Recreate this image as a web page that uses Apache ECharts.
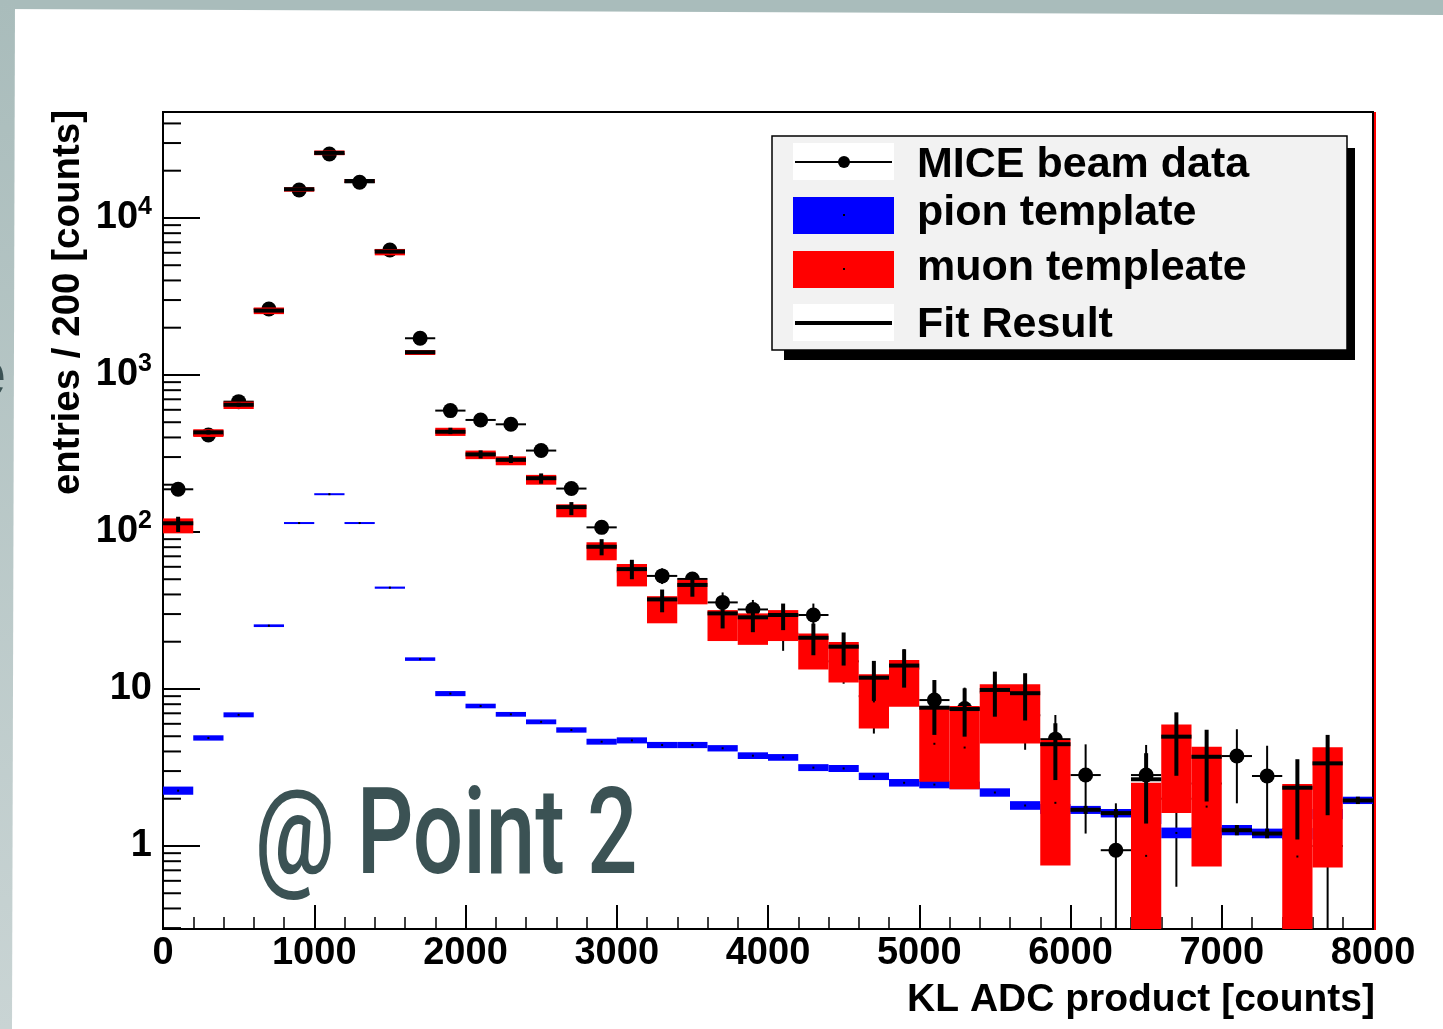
<!DOCTYPE html>
<html>
<head>
<meta charset="utf-8">
<script src="https://cdn.jsdelivr.net/npm/echarts@6/dist/echarts.min.js"></script>
<style>
html,body{margin:0;padding:0;width:1443px;height:1029px;overflow:hidden;background:#fff;}
#chart{width:1443px;height:1029px;}
</style>
</head>
<body>
<div id="chart"></div>
<script>
// ---- data ----
const binCenters = [100,300,500,700,900,1100,1300,1500,1700,1900,2100,2300,2500,2700,2900,3100,3300,3500,3700,3900,4100,4300,4500,4700,4900,5100,5300,5500,5700,5900,6100,6300,6500,6700,6900,7100,7300,7500,7700,7900];
const binWidth = 200;

// MICE beam data (points with error bars)
const dataVal = [187,415,676,2632,15080,25570,16870,6254,1713,593,517,485,330,189,107,56,52.5,50.2,35.6,32.1,22.5,29.6,15,9,13.5,8.5,7.5,9.5,6.8,4.79,2.83,0.94,2.83,2,2.5,3.74,2.79,null,1,null];
const dataLo  = [173,395,650,2581,14957,25410,16740,6175,1672,569,494,463,312,175,97,48,46.6,43.5,30,26.5,17.5,24.2,10.8,5.2,9.8,5.6,4.8,6.4,4.1,2.6,1.2,0,1.39,0.55,1,1.87,1.14,null,0,null];
const dataHi  = [201,435,702,2683,15203,25730,17000,6333,1754,617,540,507,348,203,117,64,58.7,55.3,41.2,36.9,27.7,35,19,12.5,17.9,11.4,10.2,12.6,9.4,6.83,4.44,1.87,4.4,4,4,5.54,4.35,null,2.3,null];

// pion template band
const pionLo = [2.12,4.69,6.6,24.8,113,172.5,113,43.5,15.1,9.0,7.53,6.66,5.96,5.27,4.42,4.5,4.2,4.2,4.0,3.58,3.49,3.0,2.96,2.63,2.39,2.33,2.30,2.06,1.70,1.6,1.60,1.52,1.38,1.12,1.12,1.17,1.12,1.1,1.48,1.85];
const pionHi = [2.39,5.07,7.1,25.8,115,175.5,115,44.9,15.9,9.7,8.06,7.14,6.4,5.7,4.82,4.92,4.6,4.6,4.39,3.95,3.85,3.32,3.28,2.93,2.67,2.60,2.57,2.33,1.93,1.85,1.80,1.72,1.62,1.31,1.32,1.36,1.29,1.3,1.72,2.06];

// muon template band
const muonLo = [98,403,607,2440,14700,25100,16700,5780,1340,409,291,266,200,124,66,45,26.2,34.6,20.2,19.1,20.2,13.3,11,5.6,7.7,2.57,2.3,4.5,4.5,0.75,null,null,0,1.62,0.74,null,null,0,0.73,null];
const muonHi = [122,451,676,2690,15700,26900,17700,6330,1440,461,330,303,231,150,86,62.5,39,49.5,31.8,30.3,31.8,22.6,19.9,12.4,15.3,7.8,7.8,10.7,10.7,4.73,null,null,2.53,5.95,4.29,null,null,2.48,4.25,null];

// fit result (line + error)
const fitVal = [113.6,431,646,2570,15240,25960,17200,6105,1396,435,312,288,220,144,80.5,58,37.2,46,30.3,28.6,29.6,21.2,18.6,11.8,14.1,7.6,7.45,9.86,9.4,4.45,1.70,1.62,2.66,4.97,3.7,1.26,1.20,2.35,3.36,1.95];
const fitLo  = [100,418,628,2520,15000,25650,16950,6000,1370,420,294,275,203,128,71,50,30.8,38.7,24.3,23,23.7,16.4,14.1,8.4,10.2,5.1,4.97,6.66,6.3,2.63,1.6,1.52,1.39,2.8,1.92,1.17,1.12,1.10,1.57,1.85];
const fitHi  = [125,445,665,2620,15480,26270,17450,6210,1420,461,331,309,236,155,90,66.5,43,55.3,36,35,35,26.1,22.9,15.1,17.9,11.4,10.1,12.9,12.6,6.05,1.8,1.72,3.9,7.1,5.5,1.36,1.29,3.57,5.1,2.06];

// axes
const xTickValues = [0,1000,2000,3000,4000,5000,6000,7000,8000];
const yMin = 0.296, yMax = 47300;
const minorDecades = [-1,0,1,2,3,4];
const minorMultipliers = [2,3,4,5,6,7,8,9];

// ---- build ----
const FONT = "'Liberation Sans', Arial, Helvetica, sans-serif";
const clampY = v => Math.min(Math.max(v, yMin), yMax);

function rows(a, b, c) {
  const out = [];
  binCenters.forEach((x, i) => {
    if (a[i] === null || a[i] === undefined) return;
    out.push([x, a[i], b ? b[i] : null, c ? c[i] : null]);
  });
  return out;
}
function bandRows(lo, hi) {
  const out = [];
  binCenters.forEach((x, i) => {
    if (lo[i] === null || hi[i] === null) return;
    out.push([x, Math.max(clampY(Math.sqrt(Math.max(lo[i], yMin) * hi[i])), yMin), lo[i], hi[i]]);
  });
  return out;
}

const minorVals = [];
minorDecades.forEach(d => minorMultipliers.forEach(m => {
  const v = m * Math.pow(10, d);
  if (v > yMin && v < yMax) minorVals.push([0, v]);
}));

function bandRender(color) {
  return function (params, api) {
    const c = api.value(0), lo = clampY(api.value(2)), hi = clampY(api.value(3));
    const p0 = api.coord([c - binWidth / 2, hi]);
    const p1 = api.coord([c + binWidth / 2, lo]);
    let h = p1[1] - p0[1];
    let y = p0[1];
    if (h < 2) { y = (p0[1] + p1[1]) / 2 - 1; h = 2; }
    const cy = y + h / 2;
    const cx = (p0[0] + p1[0]) / 2;
    return {
      type: 'group',
      children: [
        { type: 'rect', shape: { x: p0[0], y: y, width: p1[0] - p0[0], height: h }, style: { fill: color } },
        { type: 'rect', shape: { x: cx - 1, y: cy - 1, width: 2, height: 2 }, style: { fill: '#000' } }
      ]
    };
  };
}

function dataRender(params, api) {
  const c = api.value(0), v = api.value(1), lo = api.value(2), hi = api.value(3);
  const pl = api.coord([c - binWidth / 2, v]);
  const pr = api.coord([c + binWidth / 2, v]);
  const pc = api.coord([c, v]);
  const ch = [
    { type: 'line', shape: { x1: pl[0], y1: pl[1], x2: pr[0], y2: pr[1] }, style: { stroke: '#000', lineWidth: 2 } }
  ];
  if (lo !== null && hi !== null && !isNaN(lo) && !isNaN(hi)) {
    const pt = api.coord([c, clampY(hi)]);
    const pb = api.coord([c, clampY(lo)]);
    ch.push({ type: 'line', shape: { x1: pt[0], y1: pt[1], x2: pb[0], y2: pb[1] }, style: { stroke: '#000', lineWidth: 2 } });
  }
  ch.push({ type: 'circle', shape: { cx: pc[0], cy: pc[1], r: 7.5 }, style: { fill: '#000' } });
  return { type: 'group', children: ch };
}

function fitRender(params, api) {
  const c = api.value(0), v = api.value(1), lo = api.value(2), hi = api.value(3);
  const pl = api.coord([c - binWidth / 2, v]);
  const pr = api.coord([c + binWidth / 2, v]);
  const pt = api.coord([c, clampY(hi)]);
  const pb = api.coord([c, clampY(lo)]);
  return {
    type: 'group',
    children: [
      { type: 'line', shape: { x1: pl[0], y1: pl[1], x2: pr[0], y2: pr[1] }, style: { stroke: '#000', lineWidth: 4 } },
      { type: 'line', shape: { x1: pt[0], y1: pt[1], x2: pb[0], y2: pb[1] }, style: { stroke: '#000', lineWidth: 4 } }
    ]
  };
}

function minorRender(params, api) {
  const p = api.coord([0, api.value(1)]);
  return { type: 'line', shape: { x1: p[0], y1: p[1], x2: p[0] + 18, y2: p[1] }, style: { stroke: '#000', lineWidth: 2 } };
}

const bandGrad = { type: 'linear', x: 0, y: 0, x2: 0, y2: 1, colorStops: [{ offset: 0, color: '#a9bcbb' }, { offset: 1, color: '#c9d4d4' }] };

const option = {
  animation: false,
  backgroundColor: '#fff',
  grid: { left: 163, right: 70, top: 112, bottom: 100, show: true, borderColor: '#000', borderWidth: 2, backgroundColor: 'transparent' },
  xAxis: {
    type: 'value', min: xTickValues[0], max: xTickValues[xTickValues.length - 1], interval: 1000,
    axisLine: { show: true, lineStyle: { color: '#000', width: 2 } },
    axisTick: { show: true, inside: true, length: 24, lineStyle: { color: '#000', width: 2 } },
    minorTick: { show: true, splitNumber: 5, length: 12, lineStyle: { color: '#000', width: 1.5 } },
    splitLine: { show: false },
    axisLabel: { color: '#000', fontSize: 38, fontWeight: 'bold', fontFamily: FONT, margin: 6,
      formatter: function (v) { return String(v); } }
  },
  yAxis: {
    type: 'log', logBase: 10, min: yMin, max: yMax,
    axisLine: { show: true, lineStyle: { color: '#000', width: 2 } },
    axisTick: { show: true, inside: true, length: 37, lineStyle: { color: '#000', width: 2 } },
    splitLine: { show: false },
    axisLabel: {
      margin: 11, color: '#000',
      formatter: function (v) {
        const k = Math.log10(v);
        const r = Math.round(k);
        if (Math.abs(k - r) > 1e-6) return '';
        if (r === 0) return '{b|1}';
        if (r === 1) return '{b|10}';
        return '{b|10}{s|' + r + '}';
      },
      rich: {
        b: { fontSize: 38, fontWeight: 'bold', fontFamily: FONT, color: '#000', lineHeight: 46 },
        s: { fontSize: 25, fontWeight: 'bold', fontFamily: FONT, color: '#000', verticalAlign: 'top', lineHeight: 24 }
      }
    }
  },
  series: [
    { type: 'custom', name: 'MICE beam data', z: 2, silent: true, renderItem: dataRender,
      encode: { x: 0, y: 1 }, data: rows(dataVal, dataLo, dataHi) },
    { type: 'custom', name: 'pion template', z: 3, silent: true, renderItem: bandRender('#0000ff'),
      encode: { x: 0, y: 1 }, data: bandRows(pionLo, pionHi) },
    { type: 'custom', name: 'muon templeate', z: 4, silent: true, renderItem: bandRender('#ff0000'),
      encode: { x: 0, y: 1 }, data: bandRows(muonLo, muonHi) },
    { type: 'custom', name: 'Fit Result', z: 5, silent: true, renderItem: fitRender,
      encode: { x: 0, y: 1 }, data: rows(fitVal, fitLo, fitHi) },
    { type: 'custom', name: 'minor', z: 6, silent: true, renderItem: minorRender,
      encode: { x: 0, y: 1 }, data: minorVals }
  ],
  graphic: [
    { type: 'polygon', z: -10, shape: { points: [[0, 0], [1443, 0], [1443, 15], [0, 9]] }, style: { fill: '#a9bcbb' } },
    { type: 'polygon', z: -10, shape: { points: [[0, 0], [15, 0], [12, 1029], [0, 1029]] }, style: { fill: bandGrad } },
    { type: 'text', z: -9, x: -33, y: 378, style: { text: 'e', font: 'bold 70px ' + FONT, fill: '#3b5254', textVerticalAlign: 'middle' } },
    { type: 'line', z: 10, shape: { x1: 1375, y1: 112, x2: 1375, y2: 930 }, style: { stroke: '#ff0000', lineWidth: 2 } },

    // axis titles
    { type: 'text', z: 10, x: 68, y: 110, rotation: Math.PI / 2,
      style: { text: 'entries / 200 [counts]', font: 'bold 38.5px ' + FONT, fill: '#000', textAlign: 'right', textVerticalAlign: 'middle' } },
    { type: 'text', z: 10, x: 1375, y: 1000,
      style: { text: 'KL ADC product [counts]', font: 'bold 39px ' + FONT, fill: '#000', textAlign: 'right', textVerticalAlign: 'middle' } },

    // legend
    { type: 'rect', z: 20, shape: { x: 784, y: 148, width: 571, height: 212 }, style: { fill: '#000' } },
    { type: 'rect', z: 21, shape: { x: 772, y: 136, width: 575, height: 214 }, style: { fill: '#f2f2f2', stroke: '#000', lineWidth: 1.5 } },
    { type: 'rect', z: 22, shape: { x: 793, y: 143, width: 101, height: 37 }, style: { fill: '#fff' } },
    { type: 'line', z: 23, shape: { x1: 795, y1: 162, x2: 892, y2: 162 }, style: { stroke: '#000', lineWidth: 2 } },
    { type: 'circle', z: 23, shape: { cx: 844, cy: 162, r: 6 }, style: { fill: '#000' } },
    { type: 'rect', z: 22, shape: { x: 793, y: 197, width: 101, height: 37 }, style: { fill: '#0000ff' } },
    { type: 'rect', z: 23, shape: { x: 843, y: 214, width: 2, height: 2 }, style: { fill: '#000' } },
    { type: 'rect', z: 22, shape: { x: 793, y: 251, width: 101, height: 37 }, style: { fill: '#ff0000' } },
    { type: 'rect', z: 23, shape: { x: 843, y: 268, width: 2, height: 2 }, style: { fill: '#000' } },
    { type: 'rect', z: 22, shape: { x: 793, y: 304, width: 101, height: 37 }, style: { fill: '#fff' } },
    { type: 'line', z: 23, shape: { x1: 795, y1: 323, x2: 892, y2: 323 }, style: { stroke: '#000', lineWidth: 4 } },
    { type: 'text', z: 23, x: 917, y: 165, style: { text: 'MICE beam data', font: 'bold 43px ' + FONT, fill: '#000', textVerticalAlign: 'middle' } },
    { type: 'text', z: 23, x: 917, y: 213, style: { text: 'pion template', font: 'bold 43px ' + FONT, fill: '#000', textVerticalAlign: 'middle' } },
    { type: 'text', z: 23, x: 917, y: 268, style: { text: 'muon templeate', font: 'bold 43px ' + FONT, fill: '#000', textVerticalAlign: 'middle' } },
    { type: 'text', z: 23, x: 917, y: 325, style: { text: 'Fit Result', font: 'bold 43px ' + FONT, fill: '#000', textVerticalAlign: 'middle' } },

    // slide annotation
    { type: 'text', z: 30, x: 255, y: 843, scaleX: 0.74,
      style: { text: '@ Point 2', font: '500 120px Roboto, ' + FONT, fill: '#3b5254', textVerticalAlign: 'middle' } }
  ]
};

const chart = echarts.init(document.getElementById('chart'), null, { renderer: 'canvas' });
chart.setOption(option);
</script>
</body>
</html>
